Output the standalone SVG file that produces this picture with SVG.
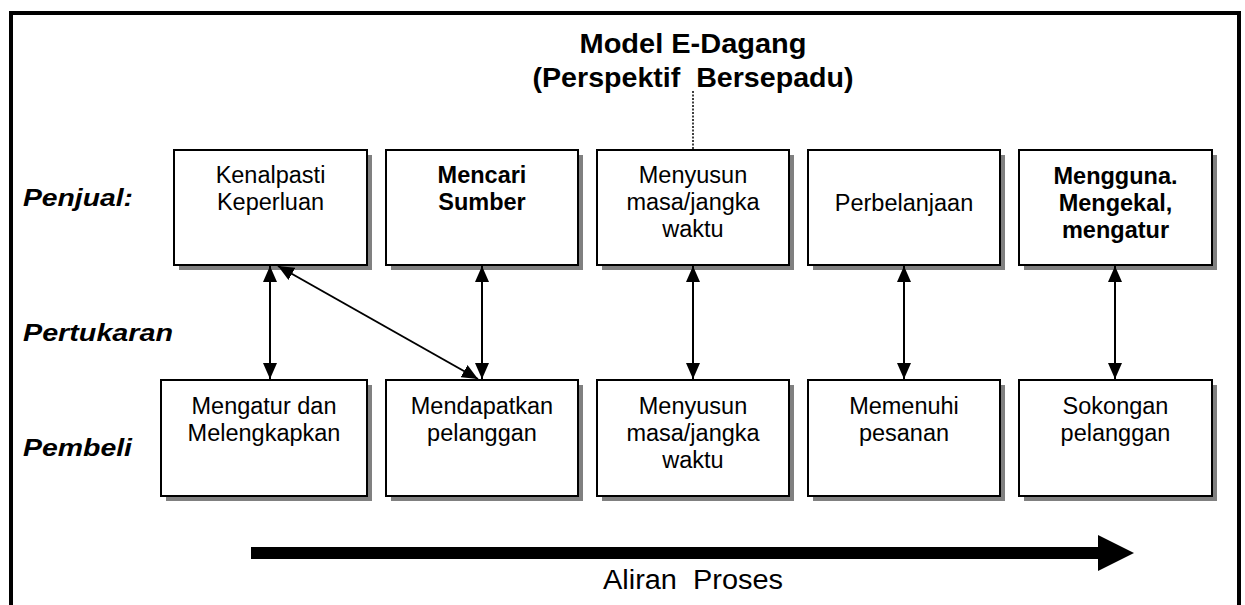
<svg xmlns="http://www.w3.org/2000/svg" width="1245" height="605" viewBox="0 0 1245 605">
  <style>
    .box { fill: #ffffff; stroke: #000000; stroke-width: 2; }
    .shadow { fill: #808080; }
    .t { font-family: "Liberation Sans", Arial, sans-serif; font-size: 23.5px; fill: #000; text-anchor: middle; }
    .b { font-weight: bold; }
    .row { font-family: "Liberation Sans", Arial, sans-serif; font-size: 24px; font-weight: bold; font-style: italic; fill: #000; }
    .title { font-family: "Liberation Sans", Arial, sans-serif; font-size: 27px; font-weight: bold; fill: #000; text-anchor: middle; }
    .link { stroke: #000; stroke-width: 2; fill: none; marker-start: url(#head); marker-end: url(#head); }
  </style>
  <defs>
    <marker id="head" viewBox="0 0 16 14" refX="16" refY="7" markerWidth="16" markerHeight="14" markerUnits="userSpaceOnUse" orient="auto-start-reverse">
      <path d="M0,0 L16,7 L0,14 Z" fill="#000"/>
    </marker>
  </defs>

  <rect width="1245" height="605" fill="#ffffff"/>

  <!-- outer frame, open at the bottom -->
  <path d="M11,610 V13 H1239 V610" fill="none" stroke="#000" stroke-width="4"/>

  <!-- title -->
  <g id="title">
    <text class="title" x="693" y="53" textLength="227" lengthAdjust="spacingAndGlyphs">Model E-Dagang</text>
    <text class="title" x="693" y="87" textLength="321" lengthAdjust="spacingAndGlyphs" xml:space="preserve">(Perspektif  Bersepadu)</text>
    <line x1="693" y1="91" x2="693" y2="150" stroke="#000" stroke-width="1.5" stroke-dasharray="2,1.5"/>
  </g>

  <!-- row labels -->
  <g id="labels">
    <text class="row" x="23" y="206" textLength="110" lengthAdjust="spacingAndGlyphs">Penjual:</text>
    <text class="row" x="23" y="341" textLength="150" lengthAdjust="spacingAndGlyphs">Pertukaran</text>
    <text class="row" x="23" y="456" textLength="109" lengthAdjust="spacingAndGlyphs">Pembeli</text>
  </g>

  <!-- seller row -->
  <g id="s1">
    <rect class="shadow" x="179" y="155" width="193" height="115"/>
    <rect class="box" x="174" y="150" width="193" height="115"/>
    <text class="t" x="270.5" y="183">Kenalpasti</text>
    <text class="t" x="270.5" y="210">Keperluan</text>
  </g>
  <g id="s2">
    <rect class="shadow" x="391" y="155" width="192" height="115"/>
    <rect class="box" x="386" y="150" width="192" height="115"/>
    <text class="t b" x="482" y="183">Mencari</text>
    <text class="t b" x="482" y="210">Sumber</text>
  </g>
  <g id="s3">
    <rect class="shadow" x="602" y="155" width="192" height="115"/>
    <rect class="box" x="597" y="150" width="192" height="115"/>
    <text class="t" x="693" y="183">Menyusun</text>
    <text class="t" x="693" y="210">masa/jangka</text>
    <text class="t" x="693" y="237">waktu</text>
  </g>
  <g id="s4">
    <rect class="shadow" x="813" y="155" width="192" height="115"/>
    <rect class="box" x="808" y="150" width="192" height="115"/>
    <text class="t" x="904" y="211">Perbelanjaan</text>
  </g>
  <g id="s5">
    <rect class="shadow" x="1024" y="155" width="193" height="115"/>
    <rect class="box" x="1019" y="150" width="193" height="115"/>
    <text class="t b" x="1115.5" y="184">Mengguna.</text>
    <text class="t b" x="1115.5" y="211">Mengekal,</text>
    <text class="t b" x="1115.5" y="238">mengatur</text>
  </g>

  <!-- buyer row -->
  <g id="b1">
    <rect class="shadow" x="166" y="385" width="206" height="116"/>
    <rect class="box" x="161" y="380" width="206" height="116"/>
    <text class="t" x="264" y="414">Mengatur dan</text>
    <text class="t" x="264" y="441">Melengkapkan</text>
  </g>
  <g id="b2">
    <rect class="shadow" x="391" y="385" width="192" height="116"/>
    <rect class="box" x="386" y="380" width="192" height="116"/>
    <text class="t" x="482" y="414">Mendapatkan</text>
    <text class="t" x="482" y="441">pelanggan</text>
  </g>
  <g id="b3">
    <rect class="shadow" x="602" y="385" width="192" height="116"/>
    <rect class="box" x="597" y="380" width="192" height="116"/>
    <text class="t" x="693" y="414">Menyusun</text>
    <text class="t" x="693" y="441">masa/jangka</text>
    <text class="t" x="693" y="468">waktu</text>
  </g>
  <g id="b4">
    <rect class="shadow" x="813" y="385" width="192" height="116"/>
    <rect class="box" x="808" y="380" width="192" height="116"/>
    <text class="t" x="904" y="414">Memenuhi</text>
    <text class="t" x="904" y="441">pesanan</text>
  </g>
  <g id="b5">
    <rect class="shadow" x="1024" y="385" width="193" height="116"/>
    <rect class="box" x="1019" y="380" width="193" height="116"/>
    <text class="t" x="1115.5" y="414">Sokongan</text>
    <text class="t" x="1115.5" y="441">pelanggan</text>
  </g>

  <!-- exchange connectors -->
  <g id="connectors">
    <line class="link" x1="270" y1="266" x2="270" y2="379"/>
    <line class="link" x1="482" y1="266" x2="482" y2="379"/>
    <line class="link" x1="693" y1="266" x2="693" y2="379"/>
    <line class="link" x1="904" y1="266" x2="904" y2="379"/>
    <line class="link" x1="1115" y1="266" x2="1115" y2="379"/>
    <line class="link" x1="278" y1="266" x2="478" y2="379"/>
  </g>

  <!-- process flow -->
  <g id="flow">
    <path d="M251,547 H1098 V535 L1134,553 L1098,571 V559 H251 Z" fill="#000"/>
    <text x="693" y="589" font-family="Liberation Sans, Arial, sans-serif" font-size="27" text-anchor="middle" textLength="180" lengthAdjust="spacingAndGlyphs" xml:space="preserve">Aliran  Proses</text>
  </g>
</svg>
